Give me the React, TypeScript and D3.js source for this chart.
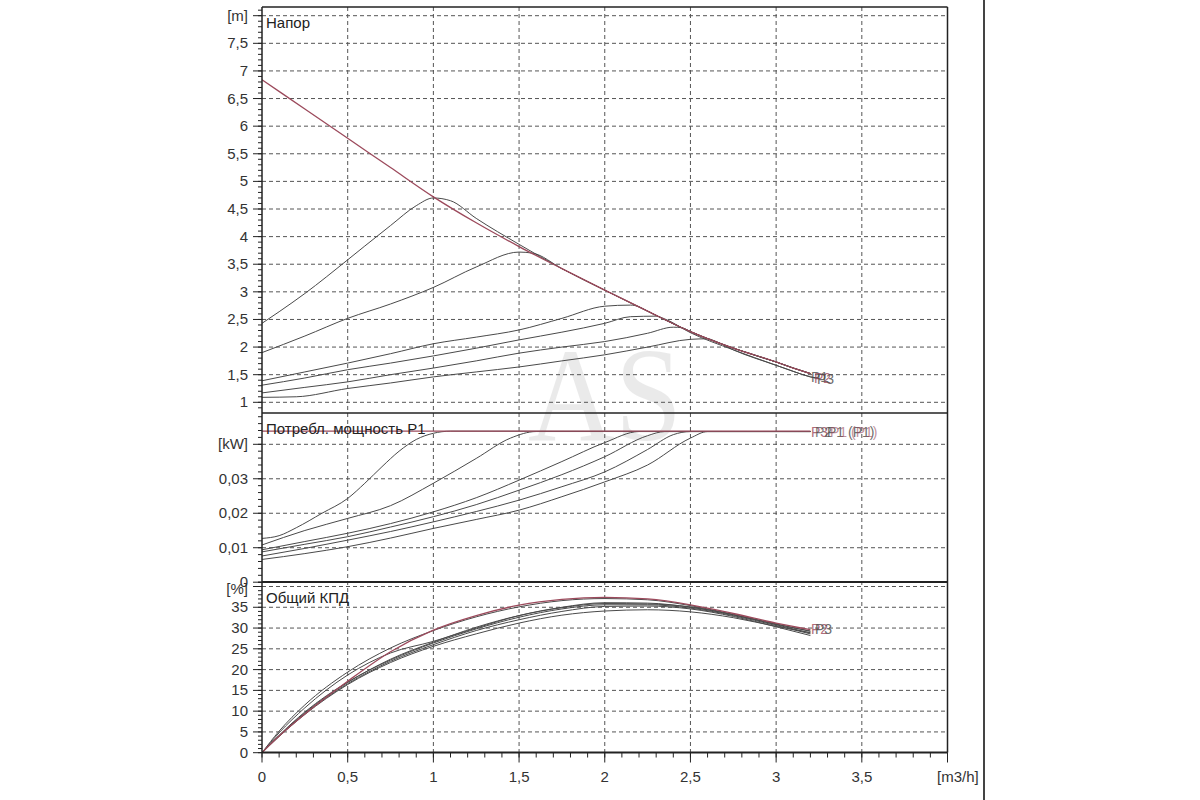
import React from 'react';
import * as d3 from 'd3';

// ---------- DATA ----------
const xTickValues = [0, 0.5, 1, 1.5, 2, 2.5, 3, 3.5];
const xTickLabels = ['0', '0,5', '1', '1,5', '2', '2,5', '3', '3,5'];

const headTickValues = [1, 1.5, 2, 2.5, 3, 3.5, 4, 4.5, 5, 5.5, 6, 6.5, 7, 7.5];
const headTickLabels = ['1', '1,5', '2', '2,5', '3', '3,5', '4', '4,5', '5', '5,5', '6', '6,5', '7', '7,5'];
const powTickValues = [0, 0.01, 0.02, 0.03];
const powTickLabels = ['0', '0,01', '0,02', '0,03'];
const effTickValues = [0, 5, 10, 15, 20, 25, 30, 35];
const effTickLabels = ['0', '5', '10', '15', '20', '25', '30', '35'];

// Head [m] vs Q [m3/h]
const headMax = [[0, 6.84], [0.25, 6.31], [0.5, 5.78], [0.75, 5.25], [1, 4.72], [1.25, 4.25], [1.5, 3.82], [1.75, 3.42], [2, 3.03], [2.25, 2.65], [2.5, 2.28], [2.75, 1.98], [3, 1.73], [3.1, 1.62], [3.2, 1.52]];
const headTailLow = [[2.5, 2.26], [2.75, 1.95], [3, 1.67], [3.1, 1.56], [3.2, 1.46], [3.25, 1.43]];
const headA = [[0, 2.43], [0.1, 2.64], [0.25, 2.97], [0.5, 3.58], [0.6, 3.83], [0.75, 4.2], [0.9, 4.56], [1, 4.7], [1.1, 4.65], [1.25, 4.33], [1.5, 3.86]];
const headB = [[0, 1.9], [0.25, 2.2], [0.5, 2.52], [0.75, 2.78], [1, 3.08], [1.25, 3.45], [1.5, 3.72], [1.58, 3.7]];
const headC = [[0, 1.39], [0.25, 1.55], [0.5, 1.71], [0.75, 1.88], [1, 2.06], [1.25, 2.18], [1.5, 2.31], [1.75, 2.52], [2, 2.74], [2.15, 2.76], [2.2, 2.73]];
const headD = [[0, 1.31], [0.25, 1.44], [0.5, 1.59], [0.75, 1.71], [1, 1.84], [1.25, 1.98], [1.5, 2.13], [1.75, 2.27], [2, 2.43], [2.15, 2.55], [2.3, 2.56], [2.35, 2.51]];
const headE = [[0, 1.17], [0.25, 1.27], [0.5, 1.37], [0.75, 1.5], [1, 1.62], [1.25, 1.75], [1.5, 1.89], [1.75, 2.0], [2, 2.1], [2.25, 2.25], [2.4, 2.36], [2.45, 2.35]];
const headF = [[0, 1.09], [0.2, 1.1], [0.5, 1.25], [0.75, 1.35], [1, 1.46], [1.25, 1.55], [1.5, 1.64], [1.75, 1.75], [2, 1.86], [2.25, 2.0], [2.5, 2.14], [2.6, 2.15], [2.65, 2.1]];

// Power P1 [kW] vs Q
const powMax = [[0, 0.0438], [1, 0.0438], [2, 0.0438], [3.2, 0.0438]];
const powTail = [[3.2, 0.0437]];
const powA = [[0, 0.0127], [0.1, 0.0135], [0.2, 0.0158], [0.35, 0.02], [0.5, 0.0243], [0.6, 0.0287], [0.7, 0.0335], [0.8, 0.038], [0.9, 0.0414], [1, 0.0432], [1.1, 0.0438]];
const powB = [[0, 0.0108], [0.25, 0.015], [0.5, 0.0185], [0.75, 0.0222], [1, 0.0287], [1.25, 0.0359], [1.45, 0.0418], [1.6, 0.0437]];
const powC = [[0, 0.0094], [0.25, 0.0118], [0.5, 0.0142], [0.75, 0.017], [1, 0.0204], [1.25, 0.0245], [1.5, 0.0296], [1.75, 0.035], [2, 0.0405], [2.2, 0.0437]];
const powD = [[0, 0.0088], [0.25, 0.011], [0.5, 0.0132], [0.75, 0.016], [1, 0.019], [1.25, 0.0225], [1.5, 0.0267], [1.75, 0.0312], [2, 0.0364], [2.25, 0.0425], [2.35, 0.0437]];
const powE = [[0, 0.0076], [0.25, 0.0098], [0.5, 0.0122], [0.75, 0.0147], [1, 0.0175], [1.25, 0.0205], [1.5, 0.0238], [1.75, 0.0277], [2, 0.032], [2.25, 0.0385], [2.4, 0.0428], [2.5, 0.0437]];
const powF = [[0, 0.0066], [0.25, 0.0083], [0.5, 0.0103], [0.75, 0.0128], [1, 0.0156], [1.25, 0.0182], [1.5, 0.0209], [1.75, 0.0248], [2, 0.0291], [2.25, 0.034], [2.5, 0.0418], [2.6, 0.0437]];

// Efficiency [%] vs Q
const effMax = [[0, 0], [0.1, 4.0], [0.25, 9.3], [0.5, 17.2], [0.75, 24.3], [1, 29.5], [1.25, 33.0], [1.5, 35.5], [1.75, 36.9], [2, 37.4], [2.25, 37.0], [2.5, 35.6], [2.75, 33.5], [3, 31.2], [3.2, 29.6]];
const effA = [[0, 0], [0.1, 5.2], [0.25, 11.5], [0.5, 19.4], [0.75, 25.2], [1, 29.4], [1.25, 32.7], [1.5, 35.1], [1.75, 36.6], [2, 37.1], [2.25, 36.8], [2.5, 35.4], [2.75, 33.3], [3, 31.0], [3.2, 29.2]];
const effB = [[0, 0], [0.1, 4.8], [0.25, 10.8], [0.5, 18.7], [0.75, 24.0], [1, 26.8], [1.25, 30.0], [1.5, 33.0], [1.75, 35.0], [2, 36.1], [2.25, 36.0], [2.5, 35.0], [2.75, 33.2], [3, 30.8], [3.2, 28.8]];
const effC = [[0, 0], [0.1, 4.2], [0.25, 9.8], [0.5, 17.0], [0.75, 22.3], [1, 26.4], [1.25, 29.8], [1.5, 32.6], [1.75, 34.6], [2, 35.6], [2.25, 35.6], [2.5, 34.8], [2.75, 33.0], [3, 30.6], [3.2, 28.6]];
const effD = [[0, 0], [0.1, 4.0], [0.25, 9.4], [0.5, 16.6], [0.75, 22.0], [1, 26.0], [1.25, 29.4], [1.5, 32.0], [1.75, 34.0], [2, 35.2], [2.25, 35.3], [2.5, 34.6], [2.75, 32.8], [3, 30.3], [3.2, 28.2]];
const effE = [[0, 0], [0.1, 3.9], [0.25, 9.2], [0.5, 16.4], [0.75, 21.7], [1, 25.6], [1.25, 28.6], [1.5, 31.2], [1.75, 33.1], [2, 34.1], [2.25, 34.4], [2.5, 33.9], [2.75, 32.5], [3, 30.4], [3.2, 28.9]];
const effF = [[0, 0], [0.1, 4.1], [0.25, 9.6], [0.5, 16.9], [0.75, 22.5], [1, 26.6], [1.25, 30.2], [1.5, 33.0], [1.75, 34.9], [2, 35.9], [2.25, 35.8], [2.5, 35.1], [2.75, 33.2], [3, 30.9], [3.2, 29.3]];

// ---------- LAYOUT ----------
const FONT = '"Liberation Sans", Arial, sans-serif';
const TXT = '#333';
const RED = '#9c4a5c';
const GRAY = '#4a4a4a';
const GRID = '#555';
const L = 262, R = 947.5;
const P1T = 7, P1B = 413, P2B = 582, P3B = 752.5;

const x = d3.scaleLinear().domain([0, 4]).range([L, R]);
const yHead = d3.scaleLinear().domain([1, 8]).range([402.3, 15.7]);
const yPow = d3.scaleLinear().domain([0, 0.04]).range([582.2, 444.3]);
const yEff = d3.scaleLinear().domain([0, 40]).range([752.7, 586.5]);

type Pt = number[];
const withTail = (rise: Pt[], tail: Pt[]) => {
  const last = rise[rise.length - 1][0];
  return rise.concat(tail.filter((p) => p[0] > last));
};

const mk = (ys: d3.ScaleLinear<number, number>) =>
  d3.line<Pt>().x((d) => x(d[0])).y((d) => ys(d[1])).curve(d3.curveMonotoneX);

const lineHead = mk(yHead);
const linePow = mk(yPow);
const lineEff = mk(yEff);

const headGray = [
  withTail(headA, headMax),
  withTail(headB, headMax),
  withTail(headC, headMax),
  withTail(headD, withTail(headMax.filter((p) => p[0] < 2.5), headTailLow)),
  withTail(headE, headMax),
  withTail(headF, headTailLow),
];
const powGray = [powA, powB, powC, powD, powE, powF].map((p) => withTail(p, powTail));
const effGray = [effA, effB, effC, effD, effE, effF];

const minorRange = (a: number, b: number, s: number) => d3.range(Math.round((b - a) / s) + 1).map((i) => a + i * s);

const App = () => {
  const vGrid = xTickValues.filter((v) => v > 0);
  const xMinor = minorRange(0, 4, 0.1);
  const headMinor = minorRange(0.9, 8.1, 0.1);
  const powMinor = minorRange(0, 0.048, 0.002);
  const effMinor = minorRange(0, 41, 1);

  const hLine = (yv: number, key: string) => (
    <line key={key} x1={L} x2={R} y1={yv} y2={yv} stroke={GRID} strokeWidth={1} strokeDasharray="4,3" />
  );

  const yTickMarks = (vals: number[], ys: (v: number) => number, len: number, key: string) =>
    vals.map((v, i) => (
      <line key={key + i} x1={L - len} x2={L} y1={ys(v)} y2={ys(v)} stroke="#222" strokeWidth={1} />
    ));

  const yLabel = (text: string, yv: number, key: string) => (
    <text key={key} x={248} y={yv + 5} textAnchor="end" fontSize={15} fill={TXT} fontFamily={FONT}>
      {text}
    </text>
  );

  return (
    <svg width={1200} height={800} style={{ position: 'absolute', left: 0, top: 0, background: '#fff' }}>
      <rect x={0} y={0} width={1200} height={800} fill="#fff" />
      {/* watermark */}
      <text x={528} y={440} fontSize={133} fontFamily='"Liberation Serif", serif' fill="#000" opacity={0.08}
        textLength={154} lengthAdjust="spacingAndGlyphs">AS</text>

      {/* horizontal grids */}
      {minorRange(1, 8, 0.5).map((v, i) => hLine(yHead(v), 'hg' + i))}
      {[0.01, 0.02, 0.03, 0.04].map((v, i) => hLine(yPow(v), 'pg' + i))}
      {[5, 10, 15, 20, 25, 30, 35, 40].map((v, i) => hLine(yEff(v), 'eg' + i))}

      {/* vertical grids */}
      {vGrid.map((v, i) => (
        <line key={'vg' + i} x1={x(v)} x2={x(v)} y1={P1T} y2={P3B} stroke={GRID} strokeWidth={1} strokeDasharray="4,3" />
      ))}

      {/* head curves */}
      <g fill="none">
        {headGray.map((d, i) => (
          <path key={'h' + i} d={lineHead(d) || ''} stroke={GRAY} strokeWidth={1} />
        ))}
        <path d={lineHead(headMax) || ''} stroke={RED} strokeWidth={1.3} />
      </g>
      {/* power curves */}
      <g fill="none">
        {powGray.map((d, i) => (
          <path key={'p' + i} d={linePow(d) || ''} stroke={GRAY} strokeWidth={1} />
        ))}
        <path d={linePow(powMax) || ''} stroke={RED} strokeWidth={1.3} />
      </g>
      {/* efficiency curves */}
      <g fill="none">
        {effGray.map((d, i) => (
          <path key={'e' + i} d={lineEff(d) || ''} stroke={GRAY} strokeWidth={1} />
        ))}
        <path d={lineEff(effMax) || ''} stroke={RED} strokeWidth={1.3} />
      </g>

      {/* curve end labels */}
      <g fontFamily={FONT} fontSize={14}>
        <text x={811} y={382} fill={GRAY} opacity={0.8}>P1</text>
        <text x={814} y={383} fill={RED} opacity={0.8}>P2</text>
        <text x={817} y={384} fill={GRAY} opacity={0.8}>P3</text>
        <text x={811} y={437} fill={RED} opacity={0.8}>P3</text>
        <text x={815} y={437} fill={GRAY} opacity={0.7}>P2</text>
        <text x={827} y={437} fill={GRAY} opacity={0.8}>P1 (P1)</text>
        <text x={830} y={437} fill={RED} opacity={0.6}>P1 (P1)</text>
        <text x={811} y={634} fill={RED} opacity={0.8}>P2</text>
        <text x={815} y={634} fill={GRAY} opacity={0.8}>P3</text>
      </g>

      {/* panel borders */}
      <line x1={L} x2={R} y1={P1T} y2={P1T} stroke="#222" strokeWidth={1.5} />
      <line x1={R} x2={R} y1={P1T} y2={P3B} stroke="#222" strokeWidth={1.5} />
      <line x1={L} x2={R} y1={P1B} y2={P1B} stroke="#222" strokeWidth={1.5} />
      <line x1={L} x2={R} y1={P2B} y2={P2B} stroke="#222" strokeWidth={2} />
      <line x1={L} x2={R} y1={P3B} y2={P3B} stroke="#222" strokeWidth={2} />
      <line x1={L} x2={L} y1={P1T} y2={P3B} stroke="#222" strokeWidth={1.5} />

      {/* y ticks */}
      {yTickMarks(headMinor, yHead, 4, 'hm')}
      {yTickMarks(minorRange(1, 8, 0.5), yHead, 9, 'hM')}
      {yTickMarks(powMinor, yPow, 4, 'pm')}
      {yTickMarks([0, 0.01, 0.02, 0.03, 0.04], yPow, 9, 'pM')}
      {yTickMarks(effMinor, yEff, 4, 'em')}
      {yTickMarks([0, 5, 10, 15, 20, 25, 30, 35, 40], yEff, 9, 'eM')}

      {/* y labels */}
      {headTickValues.map((v, i) => yLabel(headTickLabels[i], yHead(v), 'hl' + i))}
      {yLabel('[m]', yHead(8), 'hu')}
      {powTickValues.map((v, i) => yLabel(powTickLabels[i], yPow(v), 'pl' + i))}
      {yLabel('[kW]', yPow(0.04), 'pu')}
      {effTickValues.map((v, i) => yLabel(effTickLabels[i], yEff(v), 'el' + i))}
      {yLabel('[%]', yEff(40) + 2, 'eu')}

      {/* x ticks */}
      {xMinor.map((v, i) => (
        <line key={'xm' + i} x1={x(v)} x2={x(v)} y1={P3B} y2={P3B + 5} stroke="#222" strokeWidth={1} />
      ))}
      {minorRange(0, 4, 0.5).map((v, i) => (
        <line key={'xM' + i} x1={x(v)} x2={x(v)} y1={P3B} y2={P3B + 10} stroke="#222" strokeWidth={1} />
      ))}
      {xTickValues.map((v, i) => (
        <text key={'xl' + i} x={x(v)} y={782} textAnchor="middle" fontSize={15} fill={TXT} fontFamily={FONT}>
          {xTickLabels[i]}
        </text>
      ))}
      <text x={937} y={782} fontSize={15} fill={TXT} fontFamily={FONT}>[m3/h]</text>

      {/* panel titles */}
      <text x={266} y={28} fontSize={15} fill="#222" fontFamily={FONT}>Напор</text>
      <text x={266} y={434} fontSize={15} fill="#222" fontFamily={FONT}>Потребл. мощность P1</text>
      <text x={266} y={603} fontSize={15} fill="#222" fontFamily={FONT}>Общий КПД</text>

      {/* page edge line */}
      <line x1={984} x2={984} y1={0} y2={800} stroke="#444" strokeWidth={2} />
    </svg>
  );
};

export default App;
